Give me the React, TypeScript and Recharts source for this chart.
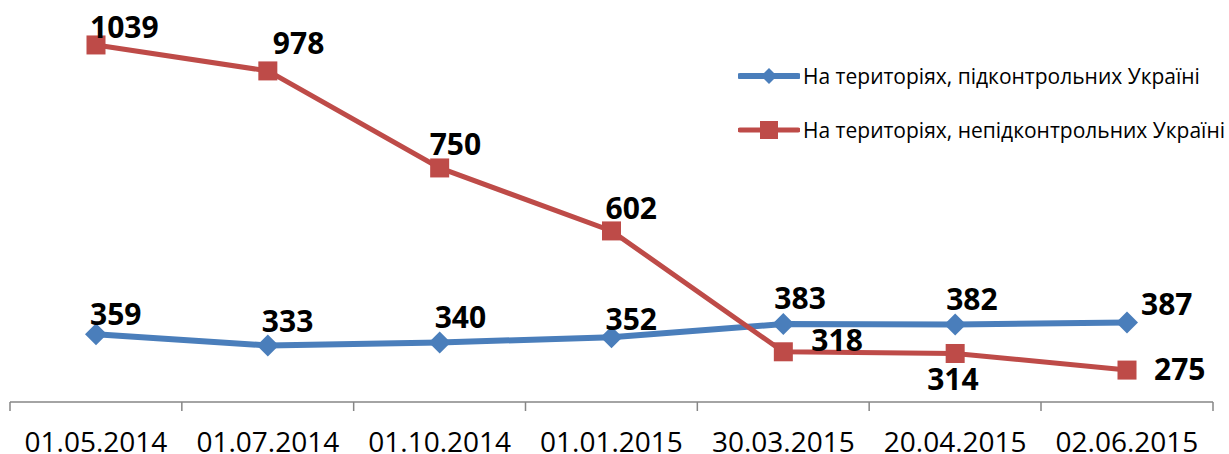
import React from "react";
import { LineChart, Line, XAxis, YAxis } from "recharts";

// dates on the x axis
const dates = [
    "01.05.2014",
    "01.07.2014",
    "01.10.2014",
    "01.01.2015",
    "30.03.2015",
    "20.04.2015",
    "02.06.2015",
];

// series values
const controlled = [359, 333, 340, 352, 383, 382, 387];
const uncontrolled = [1039, 978, 750, 602, 318, 314, 275];

const seriesNames = [
    "На територіях, підконтрольних Україні",
    "На територіях, непідконтрольних Україні",
];

const BLUE = "#4A7EBB";
const RED = "#BE4B48";
const HALF_BAND = 86;

// label offsets (dx, dy from the point), tuned by hand like in the original
const blueLabelOffsets = [
    [-6, -9], [-6, -13], [-5, -14], [-6, -7], [-9, -15], [-9, -15], [14, -7],
];
const redLabelOffsets = [
    [-6, -7], [5, -17], [-10, -13], [-6, -12], [28, -1], [-28, 37], [27, 10],
];

const data = dates.map((d, i) => ({
    name: d,
    blue: controlled[i],
    red: uncontrolled[i],
}));

const Diamond = (props: any) => {
    const { cx, cy, index } = props;
    const r = 11;
    return (
        <path
            key={`d-${index}`}
            d={`M${cx},${cy - r} L${cx + r},${cy} L${cx},${cy + r} L${cx - r},${cy} Z`}
            fill={BLUE}
        />
    );
};

const Square = (props: any) => {
    const { cx, cy, index } = props;
    const s = 19;
    return <rect key={`s-${index}`} x={cx - s / 2} y={cy - s / 2} width={s} height={s} fill={RED} />;
};

const makeLabel = (offsets: number[][]) => (props: any) => {
    const { x, y, value, index } = props;
    const [dx, dy] = offsets[index];
    return (
        <text
            key={`l-${index}`}
            x={x + dx}
            y={y + dy}
            textAnchor="start"
            fontFamily="'Open Sans', sans-serif"
            fontWeight={700}
            fontSize={30}
            fill="#000"
        >
            {value}
        </text>
    );
};

const DateTick = (props: any) => {
    const { x, y, payload, index } = props;
    return (
        <g>
            <line x1={x - HALF_BAND} y1={y} x2={x - HALF_BAND} y2={y + 9} stroke="#868686" strokeWidth={1.5} />
            {index === dates.length - 1 && (
                <line x1={x + HALF_BAND} y1={y} x2={x + HALF_BAND} y2={y + 9} stroke="#868686" strokeWidth={1.5} />
            )}
            <text
                x={x}
                y={y + 50}
                textAnchor="middle"
                fontFamily="'Open Sans', sans-serif"
                fontSize={28}
                fill="#000"
            >
                {payload.value}
            </text>
        </g>
    );
};

const LegendBox = () => (
    <div
        style={{
            position: "absolute",
            left: 738,
            top: 61,
            fontFamily: "'Open Sans', sans-serif",
            fontSize: 21,
            color: "#000",
        }}
    >
        {seriesNames.map((n, i) => (
            <div key={n} style={{ display: "flex", alignItems: "center", height: 29, marginBottom: i === 0 ? 25 : 0 }}>
                <svg width={62} height={24} style={{ flex: "none" }}>
                    <line x1={2} y1={12} x2={60} y2={12} stroke={i === 0 ? BLUE : RED} strokeWidth={i === 0 ? 6 : 5} strokeLinecap="round" />
                    {i === 0 ? (
                        <path d="M31,4 L39,12 L31,20 L23,12 Z" fill={BLUE} />
                    ) : (
                        <rect x={22} y={3} width={18} height={18} fill={RED} />
                    )}
                </svg>
                <span style={{ whiteSpace: "nowrap", marginLeft: 3 }}>{n}</span>
            </div>
        ))}
    </div>
);

export default function App() {
    return (
        <div style={{ position: "absolute", left: 0, top: 0, width: 1229, height: 454, background: "#fff" }}>
            <LineChart width={1229} height={454} data={data} margin={{ top: 19, right: 16, left: 10, bottom: 0 }}>
                <XAxis
                    dataKey="name"
                    height={52}
                    padding={{ left: HALF_BAND, right: HALF_BAND }}
                    axisLine={{ stroke: "#868686", strokeWidth: 1.5 }}
                    tickLine={false}
                    tickSize={0}
                    tickMargin={0}
                    interval={0}
                    tick={<DateTick />}
                />
                <YAxis hide domain={[200, 1100]} />
                <Line
                    dataKey="blue"
                    name={seriesNames[0]}
                    stroke={BLUE}
                    strokeWidth={6}
                    dot={<Diamond />}
                    label={makeLabel(blueLabelOffsets)}
                    isAnimationActive={false}
                />
                <Line
                    dataKey="red"
                    name={seriesNames[1]}
                    stroke={RED}
                    strokeWidth={5}
                    dot={<Square />}
                    label={makeLabel(redLabelOffsets)}
                    isAnimationActive={false}
                />
            </LineChart>
            <LegendBox />
        </div>
    );
}
